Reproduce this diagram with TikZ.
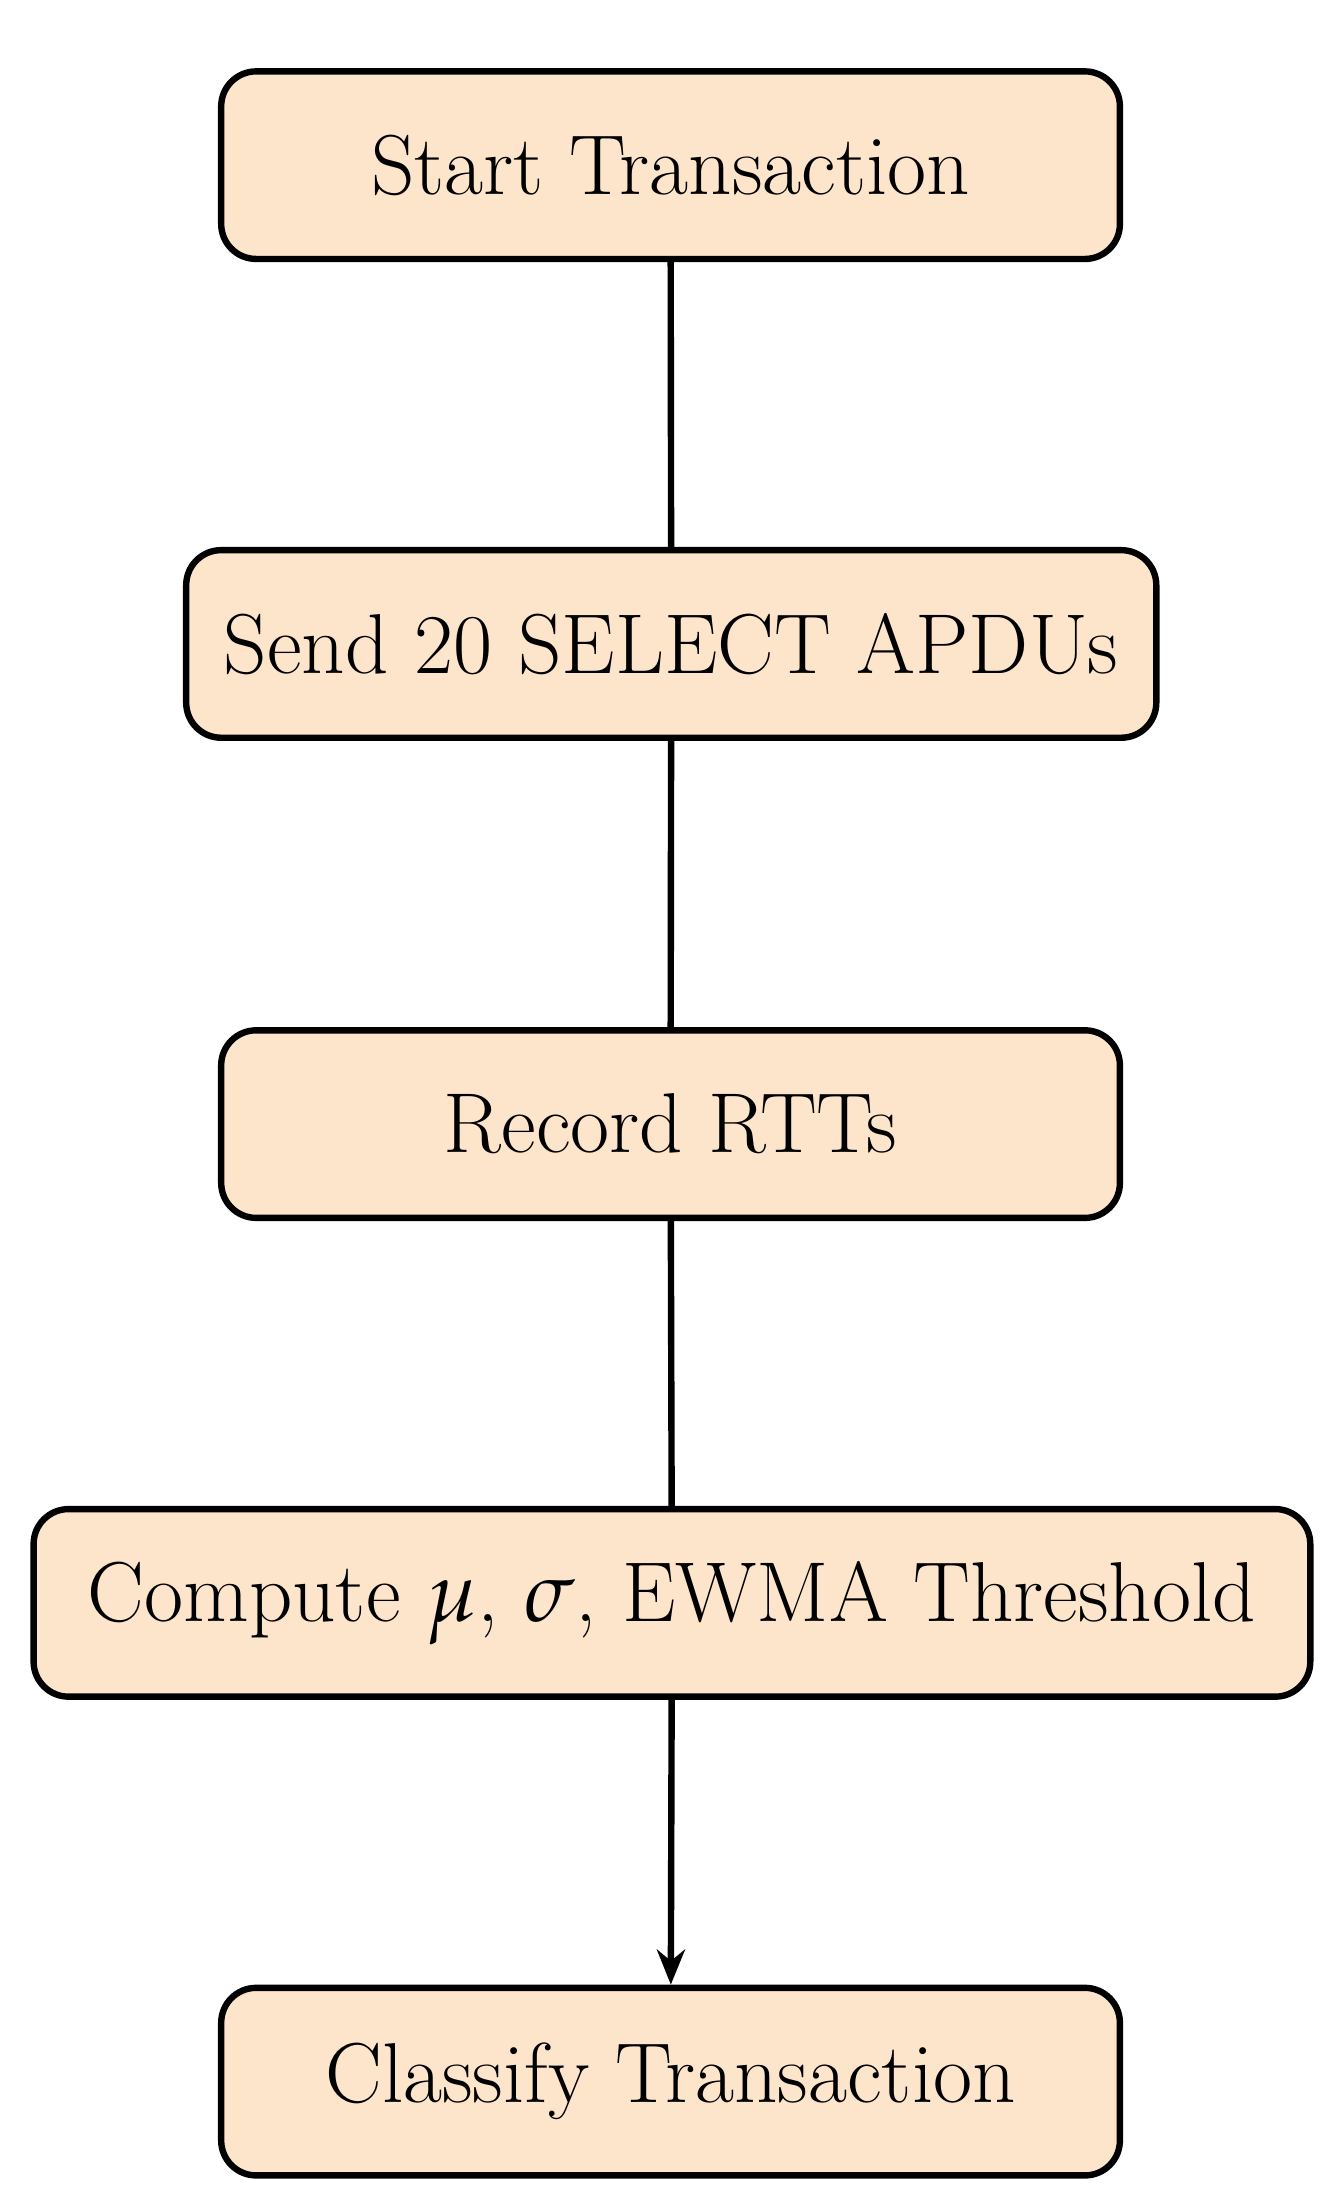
\documentclass[tikz,border=0pt]{standalone}
\usepackage{mathpazo}
\usetikzlibrary{arrows.meta}
\begin{document}
\begin{tikzpicture}[
  box/.style={draw, line width=1.3pt, rounded corners=0.25cm, fill={rgb,255:red,253;green,229;blue,204}, minimum height=1.34cm, inner sep=0pt, font=\LARGE},
  conn/.style={line width=1.3pt}
]
\useasboundingbox (0,0) rectangle (9.5,-15.68);
\node[box, minimum width=6.42cm] (a) at (4.79,-1.18) {Start Transaction};
\node[box, minimum width=6.93cm] (b) at (4.795,-4.60) {Send 20 SELECT APDUs};
\node[box, minimum width=6.42cm] (c) at (4.79,-8.03) {Record RTTs};
\node[box, minimum width=9.12cm] (d) at (4.80,-11.45) {Compute $\mu$, $\sigma$, EWMA Threshold};
\node[box, minimum width=6.42cm] (e) at (4.79,-14.87) {Classify Transaction};
\draw[conn] (a) -- (b);
\draw[conn] (b) -- (c);
\draw[conn] (c) -- (d);
\draw[conn, -{Stealth[length=0.25cm,width=0.2cm]}] (d) -- (e);
\end{tikzpicture}
\end{document}
